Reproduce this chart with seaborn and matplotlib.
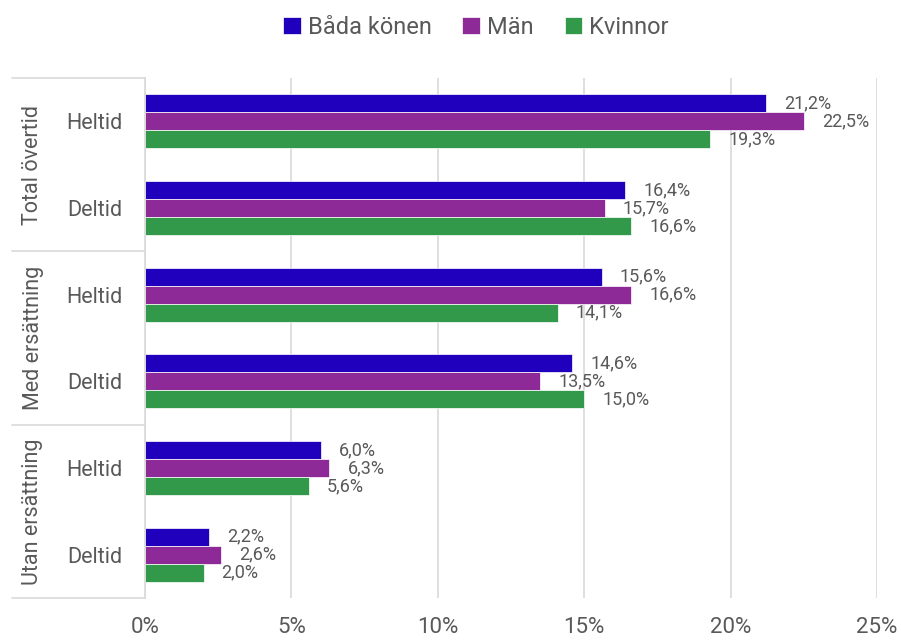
import matplotlib
matplotlib.use("Agg")
import matplotlib.pyplot as plt
import pandas as pd
import seaborn as sns

groups = ["Total övertid", "Med ersättning", "Utan ersättning"]
kinds = ["Heltid", "Deltid"]
series = ["Båda könen", "Män", "Kvinnor"]
bada = [21.2, 16.4, 15.6, 14.6, 6.0, 2.2]
man = [22.5, 15.7, 16.6, 13.5, 6.3, 2.6]
kvinnor = [19.3, 16.6, 14.1, 15.0, 5.6, 2.0]
xticks = [0, 5, 10, 15, 20, 25]

colors = {"Båda könen": "#2000BD", "Män": "#8E2A98", "Kvinnor": "#33994A"}
text_col = "#595959"
grid_col = "#d9d9d9"

rows = [f"{g}|{k}" for g in groups for k in kinds]
df = pd.DataFrame({"row": rows, "Båda könen": bada, "Män": man, "Kvinnor": kvinnor})
long = df.melt(id_vars="row", var_name="serie", value_name="value")

sns.set_style("white")
plt.rcParams["font.family"] = ["Roboto", "DejaVu Sans"]

fig = plt.figure(figsize=(9.01, 6.4), dpi=100)
W, H = 901, 640
ax = fig.add_axes([145 / W, (H - 598) / H, (877 - 145) / W, (598 - 78) / H])

sns.barplot(data=long, y="row", x="value", hue="serie", order=rows,
            hue_order=series, palette=colors, orient="h", width=0.62,
            saturation=1, edgecolor="white", linewidth=0.5, ax=ax)

for cont in ax.containers:
    labels = [f"{v:.1f}%".replace(".", ",") for v in cont.datavalues]
    ax.bar_label(cont, labels=labels, padding=13, fontsize=13, color=text_col)

ax.set_xlim(0, 25)
ax.set_xticks(xticks)
ax.set_xticklabels([f"{t}%" for t in xticks], fontsize=16, color=text_col)
ax.set_yticks(range(len(rows)))
ax.set_yticklabels([r.split("|")[1] for r in rows], fontsize=15.5, color=text_col)
ax.tick_params(axis="x", length=0, pad=14)
ax.tick_params(axis="y", length=0, pad=16)
ax.set_xlabel("")
ax.set_ylabel("")
ax.grid(axis="x", color=grid_col, linewidth=1.2)
ax.set_axisbelow(True)
for s in ["top", "right", "bottom"]:
    ax.spines[s].set_visible(False)
ax.spines["left"].set_color(grid_col)
ax.spines["left"].set_linewidth(1.2)

# group separators and labels
trans = ax.get_yaxis_transform()
x0 = (12 - 145) / (877 - 145)
for i, g in enumerate(groups):
    top = 2 * i - 0.5
    ax.plot([x0, 0], [top, top], transform=trans, color=grid_col,
            linewidth=1.2, clip_on=False)
    ax.text((33 - 145) / (877 - 145), 2 * i + 0.5, g, transform=trans,
            rotation=90, ha="center", va="center", fontsize=15.5, color=text_col)
ax.plot([x0, 0], [5.5, 5.5], transform=trans, color=grid_col,
        linewidth=1.2, clip_on=False)
ax.set_ylim(5.5, -0.5)

handles, labels = ax.get_legend_handles_labels()
ax.legend_.remove()
fig.legend(handles, labels, loc="center", bbox_to_anchor=(476 / W, 1 - 27 / H),
           ncol=3, frameon=False, fontsize=17, handlelength=0.75, handleheight=0.75,
           handletextpad=0.3, columnspacing=1.3, labelcolor=text_col)

fig.savefig("out.png", dpi=100, facecolor="white")
